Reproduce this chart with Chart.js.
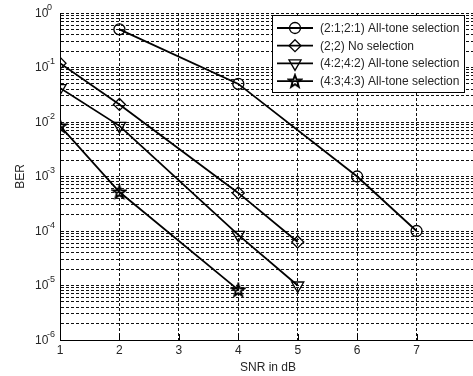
<!DOCTYPE html>
<html lang="en">
<head>
<meta charset="UTF-8">
<title>BER vs SNR</title>
<style>
  html, body { margin:0; padding:0; overflow:hidden; background:#fff; }
  #wrap { width:490px; height:376px; }
</style>
<script src="https://cdn.jsdelivr.net/npm/chart.js"></script>
</head>
<body>
<div id="wrap"><canvas id="berChart"></canvas></div>
<script>
// series (x = SNR in dB, y = BER)
const seriesNames = ['(2:1;2:1) All-tone selection', '(2;2) No selection', '(4:2;4:2) All-tone selection', '(4:3;4:3) All-tone selection'];
const snrA = [2, 4, 6, 7];
const berA = [0.5, 0.05, 1e-3, 1e-4];
const snrB = [1, 2, 4, 5];
const berB = [0.12, 0.021, 5e-4, 6.3e-5];
const snrC = [1, 2, 4, 5];
const berC = [0.042, 0.0085, 8.5e-5, 1e-5];
const snrD = [1, 2, 4];
const berD = [0.0085, 5.2e-4, 8.3e-6];
const xTicks = [1, 2, 3, 4, 5, 6, 7, 8];
const yExps = [0, -1, -2, -3, -4, -5, -6];

const FONT = '"Liberation Sans", Arial, sans-serif';
const TXT = '#262626';

// pentagram marker (MATLAB 'p')
function makeStar() {
  const c = document.createElement('canvas'); c.width = 16; c.height = 16;
  const g = c.getContext('2d');
  g.beginPath();
  for (let i = 0; i < 10; i++) {
    const r = i % 2 === 0 ? 6.5 : 2.7;
    const a = -Math.PI / 2 + i * Math.PI / 5;
    const px = 8 + r * Math.cos(a), py = 8.5 + r * Math.sin(a);
    i === 0 ? g.moveTo(px, py) : g.lineTo(px, py);
  }
  g.closePath();
  g.lineWidth = 1.9; g.strokeStyle = '#000'; g.stroke();
  return c;
}
const starImg = makeStar();

const pts = (xs, ys) => xs.map((x, i) => ({x, y: ys[i]}));
const styles = [
  {pointStyle:'circle', radius:5.5, rotation:0},
  {pointStyle:'rectRot', radius:6, rotation:0},
  {pointStyle:'triangle', radius:7, rotation:180},
  {pointStyle:starImg, radius:6, rotation:0}
];
const dataSets = [pts(snrA, berA), pts(snrB, berB), pts(snrC, berC), pts(snrD, berD)];

// y tick positions: 1..9 x 10^e
const yGrid = [];
yExps.forEach(e => { for (let m = 1; m <= 9; m++) { const v = m * Math.pow(10, e); if (v <= 1) yGrid.push(v); } });

function drawMarker(ctx, st, x, y) {
  ctx.save();
  ctx.strokeStyle = '#000'; ctx.lineWidth = 1.3;
  ctx.beginPath();
  const r = st.radius;
  if (st.pointStyle === 'circle') ctx.arc(x, y, r, 0, Math.PI * 2);
  else if (st.pointStyle === 'rectRot') { ctx.moveTo(x, y - r); ctx.lineTo(x + r, y); ctx.lineTo(x, y + r); ctx.lineTo(x - r, y); ctx.closePath(); }
  else if (st.pointStyle === 'triangle') {
    const h = r * Math.sqrt(3) / 2;
    ctx.moveTo(x - h, y - r / 2); ctx.lineTo(x + h, y - r / 2); ctx.lineTo(x, y + r); ctx.closePath();
  } else { ctx.drawImage(st.pointStyle, x - 8, y - 8); ctx.restore(); return; }
  ctx.stroke();
  ctx.restore();
}

const extras = {
  id: 'extras',
  afterDraw(chart) {
    const {ctx, chartArea: a, scales: {x, y}} = chart;
    ctx.save();
    // inward x ticks
    ctx.strokeStyle = '#000'; ctx.lineWidth = 1;
    xTicks.forEach(t => { const px = Math.round(x.getPixelForValue(t)) + 0.5; ctx.beginPath(); ctx.moveTo(px, a.bottom); ctx.lineTo(px, a.bottom - 6); ctx.stroke(); });
    // y tick labels 10^e
    ctx.fillStyle = TXT; ctx.textBaseline = 'middle'; ctx.textAlign = 'left';
    yExps.forEach(e => {
      const py = y.getPixelForValue(Math.pow(10, e));
      ctx.font = '12px ' + FONT; ctx.fillText('10', 35, py + 0.5);
      ctx.font = '9px ' + FONT; ctx.fillText(String(e), 47, py - 5.5);
    });
    // legend
    const bx = 272, by = 15, bw = 192, bh = 77;
    ctx.fillStyle = '#fff'; ctx.fillRect(bx, by, bw, bh);
    ctx.strokeStyle = '#000'; ctx.lineWidth = 1; ctx.strokeRect(bx + 0.5, by + 0.5, bw, bh);
    seriesNames.forEach((name, i) => {
      const ry = 28 + i * 17.7;
      ctx.strokeStyle = '#000'; ctx.lineWidth = 1.8;
      ctx.beginPath(); ctx.moveTo(277, ry); ctx.lineTo(313, ry); ctx.stroke();
      drawMarker(ctx, styles[i], 295, ry);
      ctx.fillStyle = TXT; ctx.font = '12px ' + FONT; ctx.textBaseline = 'middle';
      ctx.fillText(name, 320, ry + 0.5);
    });
    ctx.restore();
  }
};

new Chart(document.getElementById('berChart'), {
  type: 'line',
  data: {
    datasets: dataSets.map((d, i) => ({
      label: seriesNames[i],
      data: d,
      borderColor: '#000',
      borderWidth: 1.8,
      tension: 0,
      fill: false,
      pointStyle: styles[i].pointStyle,
      pointRadius: styles[i].radius,
      pointRotation: styles[i].rotation,
      pointBorderColor: '#000',
      pointBackgroundColor: 'rgba(0,0,0,0)',
      pointBorderWidth: 1.3
    }))
  },
  options: {
    responsive: true,
    maintainAspectRatio: false,
    animation: false,
    layout: { padding: { top: 13, right: 14, left: 0, bottom: 0 } },
    plugins: { legend: { display: false }, tooltip: { enabled: false } },
    scales: {
      x: {
        type: 'linear', min: 1, max: 8,
        afterBuildTicks: s => { s.ticks = xTicks.map(v => ({value: v})); },
        afterFit: s => { s.height = 36; },
        grid: { color: '#111', lineWidth: 1, drawTicks: false },
        border: { display: true, color: '#000', width: 1, dash: [3, 2] },
        ticks: { padding: 3, color: TXT, font: { family: FONT, size: 12 }, autoSkip: false, maxRotation: 0 },
        title: { display: true, text: 'SNR in dB', color: TXT, font: { family: FONT, size: 12 }, padding: { top: 0, bottom: 1 } }
      },
      y: {
        type: 'logarithmic', min: 1e-6, max: 1,
        afterBuildTicks: s => { s.ticks = yGrid.map(v => ({value: v})); },
        afterFit: s => { s.width = 60; },
        grid: { color: '#111', lineWidth: 1, drawTicks: false },
        border: { display: true, color: '#000', width: 1, dash: [3, 2] },
        ticks: { display: false },
        title: { display: true, text: 'BER', color: TXT, font: { family: FONT, size: 12 }, padding: { top: 13, bottom: 0 } }
      }
    }
  },
  plugins: [extras]
});
</script>
</body>
</html>
